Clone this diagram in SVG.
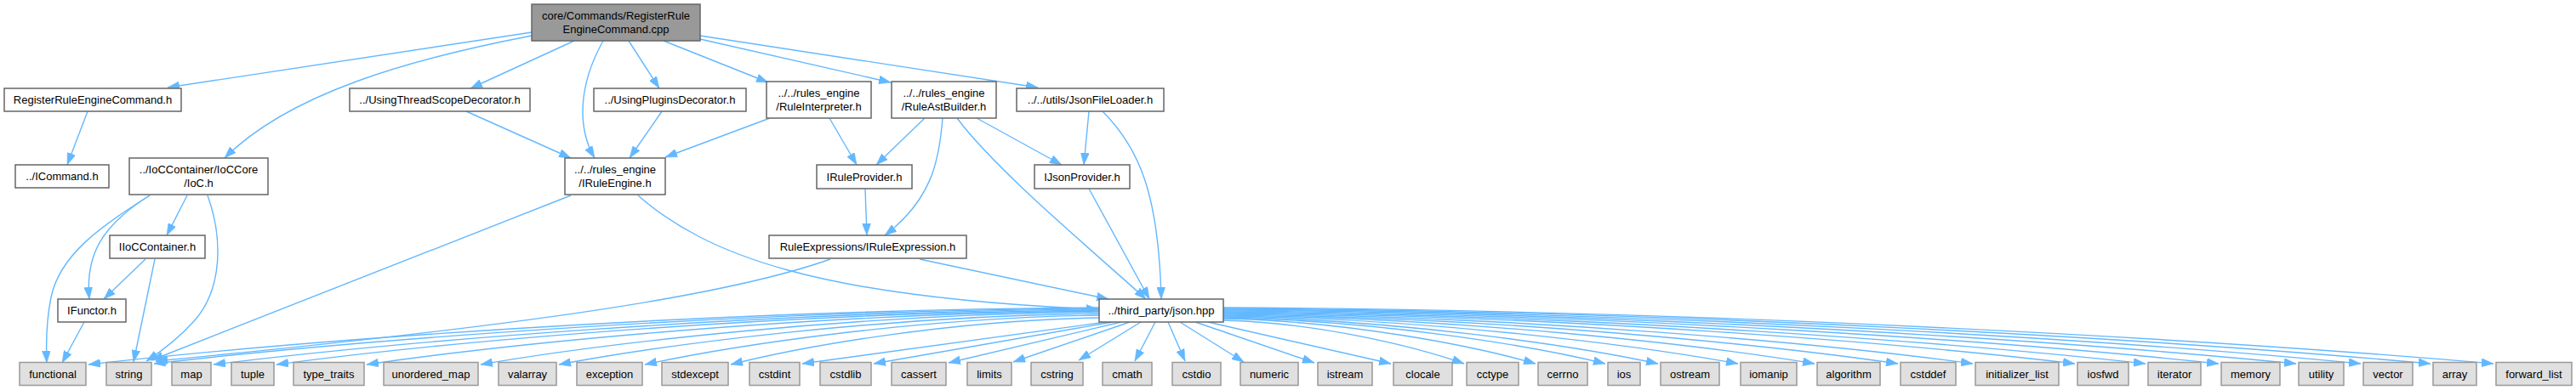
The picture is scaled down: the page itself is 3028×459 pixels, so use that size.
<svg xmlns="http://www.w3.org/2000/svg" width="3028" height="459" viewBox="0 0 3028 459">
<style>
text{font-family:"Liberation Sans",Arial,Helvetica,sans-serif;font-size:13px;text-anchor:middle;fill:#000}
.n rect{fill:#fff;stroke:#666;stroke-width:1.5}
.l rect{fill:#e0e0e0;stroke:#999;stroke-width:1.5}
.r rect{fill:#999;stroke:#666;stroke-width:1.5}
#edges path{fill:none;stroke:#63b8ff;stroke-width:1.4;marker-end:url(#a)}
</style>
<defs>
<marker id="a" markerUnits="userSpaceOnUse" markerWidth="15" markerHeight="10" refX="14" refY="5" orient="auto" viewBox="0 0 15 10">
<path d="M0,0 L14,5 L0,10 z" fill="#63b8ff" stroke="#63b8ff" stroke-width="0.5"/>
</marker>
</defs>
<rect width="3028" height="459" fill="#fff"/>
<g id="edges">
<path d="M625,38 L197,103"/>
<path d="M625,42 C480,70 340,110 264,186"/>
<path d="M675,48 L553,104"/>
<path d="M709,48 C680,100 678,150 699,186"/>
<path d="M739,48 L775,104"/>
<path d="M780,48 L903,97"/>
<path d="M823,46 L1047,97"/>
<path d="M823,42 L1220,103"/>
<path d="M103,131 L79,194"/>
<path d="M548,131 L671,186"/>
<path d="M778,131 L740,186"/>
<path d="M905,139 L782,185"/>
<path d="M975,139 L1007,194"/>
<path d="M1087,139 L1030,194"/>
<path d="M1108,139 C1104,190 1095,235 1040,277"/>
<path d="M1125,139 C1170,200 1290,300 1347,352"/>
<path d="M1148,139 L1248,194"/>
<path d="M1280,131 L1274,194"/>
<path d="M1296,131 C1340,175 1362,230 1365,352"/>
<path d="M1280,222 L1351,352"/>
<path d="M1017,222 L1019,277"/>
<path d="M1081,305 L1303,352"/>
<path d="M976,305 C850,350 600,385 183,425"/>
<path d="M671,230 L178,424"/>
<path d="M750,230 C830,300 960,350 1291,364"/>
<path d="M176,230 C120,265 70,300 60,350 C54,380 54,405 55,427"/>
<path d="M176,230 C120,265 100,300 105,352"/>
<path d="M220,230 L196,277"/>
<path d="M244,230 C262,280 262,340 228,378 C210,398 192,412 172,425"/>
<path d="M171,305 L122,352"/>
<path d="M182,305 L157,426"/>
<path d="M99,379 L73,427"/>
<path d="M1292,362 C817,365 342,402 104,429"/>
<path d="M1292,363 C848,366 403,402 181,428"/>
<path d="M1292,364 C876,367 459,403 251,429"/>
<path d="M1292,365 C905,368 518,403 325,429"/>
<path d="M1292,366 C948,369 603,404 431,429"/>
<path d="M1292,367 C1001,370 710,404 565,429"/>
<path d="M1292,369 C1038,372 784,405 657,429"/>
<path d="M1292,371 C1078,374 865,406 758,429"/>
<path d="M1292,374 C1119,377 946,407 859,429"/>
<path d="M1300,379 L943,428"/>
<path d="M1308,379 L1027,428"/>
<path d="M1318,379 L1115,427"/>
<path d="M1328,379 L1191,426"/>
<path d="M1341,379 L1268,424"/>
<path d="M1358,379 L1334,425"/>
<path d="M1373,379 L1393,425"/>
<path d="M1387,379 L1462,426"/>
<path d="M1405,379 L1545,427"/>
<path d="M1420,379 L1635,428"/>
<path d="M1438,377 C1551,380 1664,408 1721,428"/>
<path d="M1438,375 C1585,378 1732,407 1805,428"/>
<path d="M1438,374 C1618,377 1797,406 1887,428"/>
<path d="M1438,373 C1642,376 1847,406 1949,428"/>
<path d="M1438,372 C1680,375 1922,406 2043,428"/>
<path d="M1438,371 C1716,374 1994,405 2133,428"/>
<path d="M1438,370 C1755,373 2072,405 2231,428"/>
<path d="M1438,369 C1790,372 2143,404 2319,428"/>
<path d="M1438,368 C1838,371 2239,404 2439,428"/>
<path d="M1438,367 C1872,370 2305,404 2522,428"/>
<path d="M1438,366 C1906,369 2374,403 2608,428"/>
<path d="M1438,365 C1942,368 2447,403 2699,428"/>
<path d="M1438,364 C1973,367 2508,402 2775,428"/>
<path d="M1438,363 C2006,366 2573,402 2857,428"/>
<path d="M1438,362 C2035,365 2632,402 2931,428"/>
</g>
<g id="root" class="r"><rect x="625" y="5" width="198" height="43"/><text x="724" y="23">core/Commands/RegisterRule</text><text x="724" y="38.5">EngineCommand.cpp</text></g>
<g id="n_rrec" class="n"><rect x="5" y="104" width="208" height="27"/><text x="109" y="122">RegisterRuleEngineCommand.h</text></g>
<g id="n_icmd" class="n"><rect x="18" y="194" width="110" height="27"/><text x="73" y="212">../ICommand.h</text></g>
<g id="n_ioc" class="n"><rect x="152" y="186" width="163" height="43"/><text x="233.5" y="204">../IoCContainer/IoCCore</text><text x="233.5" y="219.5">/IoC.h</text></g>
<g id="n_uts" class="n"><rect x="411" y="104" width="212" height="27"/><text x="517" y="122">../UsingThreadScopeDecorator.h</text></g>
<g id="n_up" class="n"><rect x="698" y="104" width="179" height="27"/><text x="787.5" y="122">../UsingPluginsDecorator.h</text></g>
<g id="n_ri" class="n"><rect x="901" y="96" width="123" height="43"/><text x="962.5" y="114">../../rules_engine</text><text x="962.5" y="129.5">/RuleInterpreter.h</text></g>
<g id="n_rab" class="n"><rect x="1048" y="96" width="123" height="43"/><text x="1109.5" y="114">../../rules_engine</text><text x="1109.5" y="129.5">/RuleAstBuilder.h</text></g>
<g id="n_jfl" class="n"><rect x="1195" y="104" width="173" height="27"/><text x="1281.5" y="122">../../utils/JsonFileLoader.h</text></g>
<g id="n_ire" class="n"><rect x="664" y="186" width="118" height="43"/><text x="723" y="204">../../rules_engine</text><text x="723" y="219.5">/IRuleEngine.h</text></g>
<g id="n_irp" class="n"><rect x="960" y="194" width="112" height="28"/><text x="1016" y="212.5">IRuleProvider.h</text></g>
<g id="n_ijp" class="n"><rect x="1216" y="194" width="112" height="28"/><text x="1272" y="212.5">IJsonProvider.h</text></g>
<g id="n_iioc" class="n"><rect x="129" y="277" width="112" height="27"/><text x="185" y="295">IIoCContainer.h</text></g>
<g id="n_irx" class="n"><rect x="904" y="277" width="232" height="27"/><text x="1020" y="295">RuleExpressions/IRuleExpression.h</text></g>
<g id="n_ifn" class="n"><rect x="68" y="352" width="80" height="27"/><text x="108" y="370">IFunctor.h</text></g>
<g id="n_json" class="n"><rect x="1292" y="352" width="146" height="27"/><text x="1365" y="370">../third_party/json.hpp</text></g>
<g id="l_functional" class="l"><rect x="23" y="426.5" width="78" height="27"/><text x="62" y="444.5">functional</text></g>
<g id="l_string" class="l"><rect x="125" y="426.5" width="53" height="27"/><text x="151.5" y="444.5">string</text></g>
<g id="l_map" class="l"><rect x="202" y="426.5" width="46" height="27"/><text x="225" y="444.5">map</text></g>
<g id="l_tuple" class="l"><rect x="272" y="426.5" width="50" height="27"/><text x="297" y="444.5">tuple</text></g>
<g id="l_type_traits" class="l"><rect x="345" y="426.5" width="83" height="27"/><text x="386.5" y="444.5">type_traits</text></g>
<g id="l_unordered_map" class="l"><rect x="451" y="426.5" width="111" height="27"/><text x="506.5" y="444.5">unordered_map</text></g>
<g id="l_valarray" class="l"><rect x="586" y="426.5" width="68" height="27"/><text x="620" y="444.5">valarray</text></g>
<g id="l_exception" class="l"><rect x="678" y="426.5" width="77" height="27"/><text x="716.5" y="444.5">exception</text></g>
<g id="l_stdexcept" class="l"><rect x="778" y="426.5" width="78" height="27"/><text x="817" y="444.5">stdexcept</text></g>
<g id="l_cstdint" class="l"><rect x="881" y="426.5" width="59" height="27"/><text x="910.5" y="444.5">cstdint</text></g>
<g id="l_cstdlib" class="l"><rect x="964" y="426.5" width="60" height="27"/><text x="994" y="444.5">cstdlib</text></g>
<g id="l_cassert" class="l"><rect x="1048" y="426.5" width="64" height="27"/><text x="1080" y="444.5">cassert</text></g>
<g id="l_limits" class="l"><rect x="1137" y="426.5" width="52" height="27"/><text x="1163" y="444.5">limits</text></g>
<g id="l_cstring" class="l"><rect x="1212" y="426.5" width="61" height="27"/><text x="1242.5" y="444.5">cstring</text></g>
<g id="l_cmath" class="l"><rect x="1296" y="426.5" width="58" height="27"/><text x="1325" y="444.5">cmath</text></g>
<g id="l_cstdio" class="l"><rect x="1378" y="426.5" width="57" height="27"/><text x="1406.5" y="444.5">cstdio</text></g>
<g id="l_numeric" class="l"><rect x="1458" y="426.5" width="68" height="27"/><text x="1492" y="444.5">numeric</text></g>
<g id="l_istream" class="l"><rect x="1549" y="426.5" width="64" height="27"/><text x="1581" y="444.5">istream</text></g>
<g id="l_clocale" class="l"><rect x="1638" y="426.5" width="69" height="27"/><text x="1672.5" y="444.5">clocale</text></g>
<g id="l_cctype" class="l"><rect x="1724" y="426.5" width="61" height="27"/><text x="1754.5" y="444.5">cctype</text></g>
<g id="l_cerrno" class="l"><rect x="1808" y="426.5" width="58" height="27"/><text x="1837" y="444.5">cerrno</text></g>
<g id="l_ios" class="l"><rect x="1890" y="426.5" width="38" height="27"/><text x="1909" y="444.5">ios</text></g>
<g id="l_ostream" class="l"><rect x="1952" y="426.5" width="69" height="27"/><text x="1986.5" y="444.5">ostream</text></g>
<g id="l_iomanip" class="l"><rect x="2046" y="426.5" width="66" height="27"/><text x="2079" y="444.5">iomanip</text></g>
<g id="l_algorithm" class="l"><rect x="2136" y="426.5" width="74" height="27"/><text x="2173" y="444.5">algorithm</text></g>
<g id="l_cstddef" class="l"><rect x="2234" y="426.5" width="65" height="27"/><text x="2266.5" y="444.5">cstddef</text></g>
<g id="l_initializer_list" class="l"><rect x="2322" y="426.5" width="98" height="27"/><text x="2371" y="444.5">initializer_list</text></g>
<g id="l_iosfwd" class="l"><rect x="2442" y="426.5" width="60" height="27"/><text x="2472" y="444.5">iosfwd</text></g>
<g id="l_iterator" class="l"><rect x="2525" y="426.5" width="62" height="27"/><text x="2556" y="444.5">iterator</text></g>
<g id="l_memory" class="l"><rect x="2611" y="426.5" width="69" height="27"/><text x="2645.5" y="444.5">memory</text></g>
<g id="l_utility" class="l"><rect x="2702" y="426.5" width="53" height="27"/><text x="2728.5" y="444.5">utility</text></g>
<g id="l_vector" class="l"><rect x="2778" y="426.5" width="58" height="27"/><text x="2807" y="444.5">vector</text></g>
<g id="l_array" class="l"><rect x="2860" y="426.5" width="51" height="27"/><text x="2885.5" y="444.5">array</text></g>
<g id="l_forward_list" class="l"><rect x="2934" y="426.5" width="89" height="27"/><text x="2978.5" y="444.5">forward_list</text></g>
</svg>
